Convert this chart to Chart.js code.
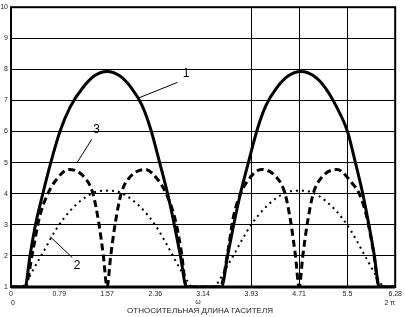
<!DOCTYPE html>
<html lang="ru">
<head>
  <meta charset="UTF-8">
  <title>Относительная длина гасителя</title>
  <script src="https://cdn.jsdelivr.net/npm/chart.js"></script>
  <style>
    html, body { margin: 0; padding: 0; background: #fff; }
    #wrap { width: 405px; height: 317px; }
  </style>
</head>
<body>
  <div id="wrap"><canvas id="chart" width="405" height="317"></canvas></div>
  <script>
    // тики осей
    const xTicks = [0, 0.79, 1.57, 2.36, 3.14, 3.93, 4.71, 5.5, 6.28];
    const xTickLabels = ['0', '0.79', '1.57', '2.36', '3.14', '3.93', '4.71', '5.5', '6.28'];
    const xGridAt = [3.93, 4.71, 5.5];
    const yTicks = [1, 2, 3, 4, 5, 6, 7, 8, 9, 10];

    // кривая 1 (сплошная)
    const curve1X = [0, 0.23, 0.31, 0.40, 0.52, 0.65, 0.80, 0.97, 1.17, 1.37, 1.57, 1.77, 1.97, 2.14, 2.28, 2.43, 2.56, 2.67, 2.77, 2.87,
                     3.44, 3.54, 3.64, 3.75, 3.88, 4.03, 4.17, 4.34, 4.54, 4.74, 4.94, 5.14, 5.32, 5.5, 5.63, 5.75, 5.85, 5.94, 6.02, 6.28];
    const curve1Y = [1, 1, 2, 3, 4, 5, 6, 6.8, 7.4, 7.8, 7.93, 7.8, 7.4, 6.85, 6.1, 5, 4, 3, 2, 1,
                     1, 2, 3, 4, 5, 6.1, 6.85, 7.4, 7.8, 7.93, 7.8, 7.4, 6.8, 6, 5, 4, 3, 2, 1, 1];

    // кривая 2 (точки)
    const curve2X = [0, 0.18, 0.26, 0.39, 0.54, 0.72, 0.86, 1.05, 1.25, 1.4, 1.57, 1.74, 1.89, 2.09, 2.28, 2.42, 2.6, 2.75, 2.88, 2.96,
                     3.32, 3.40, 3.53, 3.68, 3.86, 4.0, 4.19, 4.39, 4.54, 4.71, 4.88, 5.03, 5.23, 5.42, 5.56, 5.74, 5.89, 6.02, 6.1, 6.28];
    const curve2Y = [1, 1, 1.2, 1.65, 2.17, 2.8, 3.2, 3.62, 3.93, 4.07, 4.1, 4.07, 3.93, 3.62, 3.2, 2.8, 2.17, 1.63, 1.2, 1,
                     1, 1.2, 1.65, 2.17, 2.8, 3.2, 3.62, 3.93, 4.07, 4.1, 4.07, 3.93, 3.62, 3.2, 2.8, 2.17, 1.63, 1.2, 1, 1];

    // кривая 3 (штрих)
    const curve3X = [0, 0.23, 0.36, 0.46, 0.59, 0.74, 0.94, 1.19, 1.34, 1.44, 1.51, 1.57, 1.63, 1.70, 1.80, 1.95, 2.2, 2.4, 2.55, 2.68, 2.78, 2.87,
                     3.42, 3.55, 3.63, 3.74, 3.88, 4.09, 4.33, 4.48, 4.58, 4.65, 4.71, 4.77, 4.84, 4.94, 5.09, 5.33, 5.55, 5.7, 5.81, 5.92, 6.02, 6.28];
    const curve3Y = [1, 1, 2.2, 3.2, 3.95, 4.45, 4.78, 4.55, 4, 3, 2, 1, 2, 3, 4, 4.55, 4.78, 4.45, 3.95, 3.2, 2.2, 1,
                     1, 2.2, 3.2, 3.95, 4.45, 4.78, 4.55, 4, 3, 2, 1, 2, 3, 4, 4.55, 4.78, 4.4, 3.97, 3.3, 2.2, 1, 1];

    // подписи кривых: текст, позиция текста, линия-выноска (в единицах осей)
    const curveLabels = ['1', '2', '3'];
    const labelPos = [[2.86, 7.85], [1.08, 1.68], [1.40, 6.05]];
    const leaderFrom = [[2.06, 7.06], [0.64, 2.62], [1.32, 5.75]];
    const leaderTo = [[2.72, 7.58], [1.0, 1.95], [1.08, 5.0]];

    const pts = (xs, ys) => xs.map((x, i) => ({ x: x, y: ys[i] }));

    // рамка, выноски и подписи под осью
    const extras = {
      id: 'extras',
      afterDatasetsDraw(chart) {
        const ctx = chart.ctx;
        const a = chart.chartArea;
        const sx = chart.scales.x, sy = chart.scales.y;
        ctx.save();
        ctx.strokeStyle = '#000';
        ctx.lineWidth = 2;
        ctx.strokeRect(a.left, a.top, a.right - a.left, a.bottom - a.top);
        ctx.lineWidth = 3;
        ctx.beginPath();
        ctx.moveTo(a.left, a.bottom);
        ctx.lineTo(a.right, a.bottom);
        ctx.stroke();

        ctx.lineWidth = 1;
        ctx.fillStyle = '#000';
        ctx.font = '12px "Liberation Sans", Arial, sans-serif';
        ctx.textAlign = 'center';
        ctx.textBaseline = 'middle';
        curveLabels.forEach((t, i) => {
          ctx.beginPath();
          ctx.moveTo(sx.getPixelForValue(leaderFrom[i][0]), sy.getPixelForValue(leaderFrom[i][1]));
          ctx.lineTo(sx.getPixelForValue(leaderTo[i][0]), sy.getPixelForValue(leaderTo[i][1]));
          ctx.stroke();
          ctx.fillText(t, sx.getPixelForValue(labelPos[i][0]), sy.getPixelForValue(labelPos[i][1]));
        });

        ctx.fillStyle = '#222';
        ctx.font = '7px "Liberation Sans", Arial, sans-serif';
        ctx.textAlign = 'left';
        ctx.fillText('0', a.left, 303);
        ctx.textAlign = 'right';
        ctx.fillText('2 π', a.right, 303);
        ctx.textAlign = 'center';
        ctx.fillText('ω', 198, 302);
        ctx.font = '8px "Liberation Sans", Arial, sans-serif';
        ctx.fillText('ОТНОСИТЕЛЬНАЯ ДЛИНА ГАСИТЕЛЯ', 200, 311);
        ctx.restore();
      }
    };

    new Chart(document.getElementById('chart'), {
      type: 'line',
      data: {
        datasets: [
          {
            data: pts(curve1X, curve1Y),
            borderColor: '#000',
            borderWidth: 3,
            pointRadius: 0,
            cubicInterpolationMode: 'monotone'
          },
          {
            data: pts(curve2X, curve2Y),
            borderColor: '#000',
            borderWidth: 2,
            borderDash: [2, 4],
            pointRadius: 0,
            cubicInterpolationMode: 'monotone'
          },
          {
            data: pts(curve3X, curve3Y),
            borderColor: '#000',
            borderWidth: 3,
            borderDash: [7, 4],
            pointRadius: 0,
            cubicInterpolationMode: 'monotone'
          }
        ]
      },
      options: {
        responsive: false,
        animation: false,
        layout: { padding: { top: 2, right: 9, left: 0, bottom: 0 } },
        plugins: { legend: { display: false }, tooltip: { enabled: false } },
        scales: {
          x: {
            type: 'linear',
            min: 0,
            max: 6.28,
            afterBuildTicks: (s) => { s.ticks = xTicks.map(v => ({ value: v })); },
            afterFit: (s) => { s.height = 30; },
            grid: {
              drawTicks: false,
              lineWidth: 1,
              color: (c) => xGridAt.includes(c.tick && c.tick.value) ? '#000' : 'rgba(0,0,0,0)'
            },
            border: { display: false },
            ticks: {
              autoSkip: false,
              maxRotation: 0,
              padding: 3,
              color: '#222',
              font: { family: '"Liberation Sans", Arial, sans-serif', size: 7 },
              callback: (v) => xTickLabels[xTicks.indexOf(v)]
            }
          },
          y: {
            min: 1,
            max: 10,
            afterBuildTicks: (s) => { s.ticks = yTicks.map(v => ({ value: v })); },
            afterFit: (s) => { s.width = 11; },
            grid: { drawTicks: false, color: '#000', lineWidth: 1 },
            border: { display: false },
            ticks: {
              padding: 3,
              color: '#222',
              font: { family: '"Liberation Sans", Arial, sans-serif', size: 7 }
            }
          }
        }
      },
      plugins: [extras]
    });
  </script>
</body>
</html>
